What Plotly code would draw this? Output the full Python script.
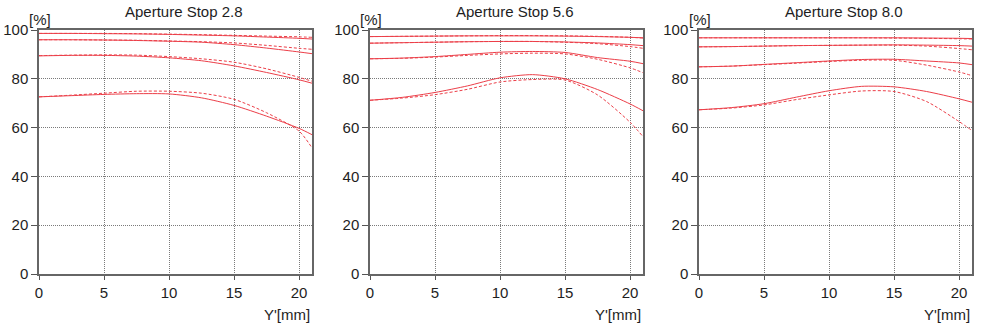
import plotly.graph_objects as go

# Image height Y' in mm at which the contrast values were sampled
y_mm = [0, 2.5, 5, 7.5, 10, 12.5, 15, 17.5, 20, 21]

# Aperture stop 2.8 (solid = sagittal, dashed = meridional), four spatial frequencies
f28_a_sag = [98.6, 98.6, 98.5, 98.4, 98.2, 97.9, 97.6, 97.1, 96.6, 96.3]
f28_a_mer = [98.6, 98.6, 98.6, 98.5, 98.3, 98.1, 97.8, 97.5, 97.2, 97.0]
f28_b_sag = [96.0, 96.0, 95.9, 95.7, 95.4, 95.0, 94.0, 92.6, 91.0, 90.3]
f28_b_mer = [96.0, 96.0, 95.9, 95.8, 95.5, 95.2, 94.7, 93.7, 92.5, 92.1]
f28_c_sag = [89.4, 89.6, 89.6, 89.3, 88.6, 87.4, 85.3, 82.6, 79.6, 78.2]
f28_c_mer = [89.5, 89.7, 89.8, 89.7, 89.1, 88.2, 86.8, 84.1, 80.6, 79.0]
f28_d_sag = [72.6, 73.1, 73.6, 73.9, 73.8, 72.2, 69.1, 64.7, 59.7, 57.1]
f28_d_mer = [72.6, 73.3, 74.1, 74.9, 74.9, 74.1, 71.6, 66.1, 58.6, 51.7]

# Aperture stop 5.6
f56_a_sag = [97.3, 97.4, 97.5, 97.6, 97.6, 97.6, 97.5, 97.3, 97.0, 96.8]
f56_a_mer = [97.3, 97.4, 97.5, 97.6, 97.7, 97.7, 97.6, 97.4, 97.0, 96.7]
f56_b_sag = [94.6, 94.8, 95.0, 95.2, 95.3, 95.3, 95.1, 94.7, 94.0, 93.6]
f56_b_mer = [94.6, 94.8, 95.0, 95.2, 95.3, 95.3, 95.0, 94.4, 93.2, 92.5]
f56_c_sag = [88.2, 88.5, 89.1, 90.0, 90.9, 91.2, 90.8, 88.7, 87.2, 86.2]
f56_c_mer = [88.2, 88.4, 88.9, 89.6, 90.2, 90.5, 90.2, 88.0, 84.5, 82.5]
f56_d_sag = [71.2, 72.4, 74.4, 77.1, 80.4, 81.7, 80.0, 75.6, 69.7, 66.9]
f56_d_mer = [71.2, 72.1, 73.5, 75.7, 78.7, 79.7, 79.5, 73.4, 62.2, 56.3]

# Aperture stop 8.0
f80_a_sag = [96.8, 96.8, 96.8, 96.8, 96.8, 96.8, 96.8, 96.7, 96.6, 96.5]
f80_a_mer = [96.8, 96.8, 96.8, 96.8, 96.8, 96.8, 96.7, 96.6, 96.4, 96.3]
f80_b_sag = [93.1, 93.2, 93.4, 93.6, 93.7, 93.8, 93.9, 93.8, 93.6, 93.4]
f80_b_mer = [93.1, 93.2, 93.4, 93.6, 93.7, 93.8, 93.8, 93.4, 92.4, 91.9]
f80_c_sag = [84.9, 85.2, 85.9, 86.6, 87.3, 87.9, 88.0, 87.3, 86.5, 85.8]
f80_c_mer = [84.9, 85.2, 85.8, 86.4, 87.1, 87.6, 87.6, 85.6, 82.8, 81.3]
f80_d_sag = [67.3, 68.2, 69.8, 72.5, 75.1, 76.9, 76.7, 74.8, 71.8, 70.4]
f80_d_mer = [67.3, 68.0, 69.3, 71.5, 73.4, 75.0, 74.8, 70.7, 62.5, 58.8]

panel_titles = ["Aperture Stop 2.8", "Aperture Stop 5.6", "Aperture Stop 8.0"]
panels = [
    [(f28_a_sag, f28_a_mer), (f28_b_sag, f28_b_mer), (f28_c_sag, f28_c_mer), (f28_d_sag, f28_d_mer)],
    [(f56_a_sag, f56_a_mer), (f56_b_sag, f56_b_mer), (f56_c_sag, f56_c_mer), (f56_d_sag, f56_d_mer)],
    [(f80_a_sag, f80_a_mer), (f80_b_sag, f80_b_mer), (f80_c_sag, f80_c_mer), (f80_d_sag, f80_d_mer)],
]
x_ticks = [0, 5, 10, 15, 20]
y_ticks = [0, 20, 40, 60, 80, 100]

LINE_RED = "rgb(236,62,72)"
FONT = "Liberation Sans"
TEXT = "#1e1e1e"
GRID = "#7a7a7a"
domains = [[0.0, 0.2926], [0.3548, 0.6474], [0.7074, 1.0]]

fig = go.Figure()
layout = dict(
    width=1000, height=332,
    margin=dict(l=39, r=28, t=30, b=58),
    paper_bgcolor="white", plot_bgcolor="white",
    showlegend=False,
    font=dict(family=FONT, size=15, color=TEXT),
    annotations=[],
)

for i, (title, curves) in enumerate(zip(panel_titles, panels)):
    suffix = "" if i == 0 else str(i + 1)
    xa, ya = "x" + suffix, "y" + suffix
    for sag, mer in curves:
        fig.add_trace(go.Scatter(x=y_mm, y=sag, mode="lines", xaxis=xa, yaxis=ya,
                                 line=dict(color=LINE_RED, width=1, shape="spline", smoothing=0.7),
                                 hoverinfo="skip"))
        fig.add_trace(go.Scatter(x=y_mm, y=mer, mode="lines", xaxis=xa, yaxis=ya,
                                 line=dict(color=LINE_RED, width=1, dash="3px,2px",
                                           shape="spline", smoothing=0.7),
                                 hoverinfo="skip"))
    layout["xaxis" + suffix] = dict(
        domain=domains[i], anchor=ya, range=[0, 21], tickvals=x_ticks,
        ticks="outside", ticklen=4, tickcolor="#555", tickwidth=1,
        showline=True, linecolor="#666", linewidth=1.5, mirror=True,
        showgrid=True, gridcolor=GRID, griddash="1px,1px", gridwidth=1,
        zeroline=False, tickfont=dict(size=15, color=TEXT), automargin=False,
    )
    layout["yaxis" + suffix] = dict(
        domain=[0, 1], anchor=xa, range=[0, 100], tickvals=y_ticks,
        ticks="outside", ticklen=6, tickcolor="#555", tickwidth=1,
        showline=True, linecolor="#666", linewidth=1.5, mirror=True,
        showgrid=True, gridcolor=GRID, griddash="1px,1px", gridwidth=1,
        zeroline=False, tickfont=dict(size=15, color=TEXT), ticklabelstandoff=0,
        automargin=False,
    )
    layout["annotations"] += [
        dict(text=title, xref=xa + " domain", yref="paper", x=0.53, y=1, yshift=19,
             xanchor="center", yanchor="middle", showarrow=False,
             font=dict(size=15, color=TEXT)),
        dict(text="[%]", xref=xa + " domain", yref=ya + " domain", x=0, y=1, xshift=1,
             xanchor="center", yanchor="bottom", showarrow=False, yshift=0,
             font=dict(size=15, color=TEXT)),
        dict(text="Y'[mm]", xref=xa + " domain", yref=ya + " domain", x=1, y=0, yshift=-40,
             xanchor="right", yanchor="middle", showarrow=False,
             font=dict(size=15, color=TEXT)),
    ]

fig.update_layout(**layout)
fig.write_html("out.html")
